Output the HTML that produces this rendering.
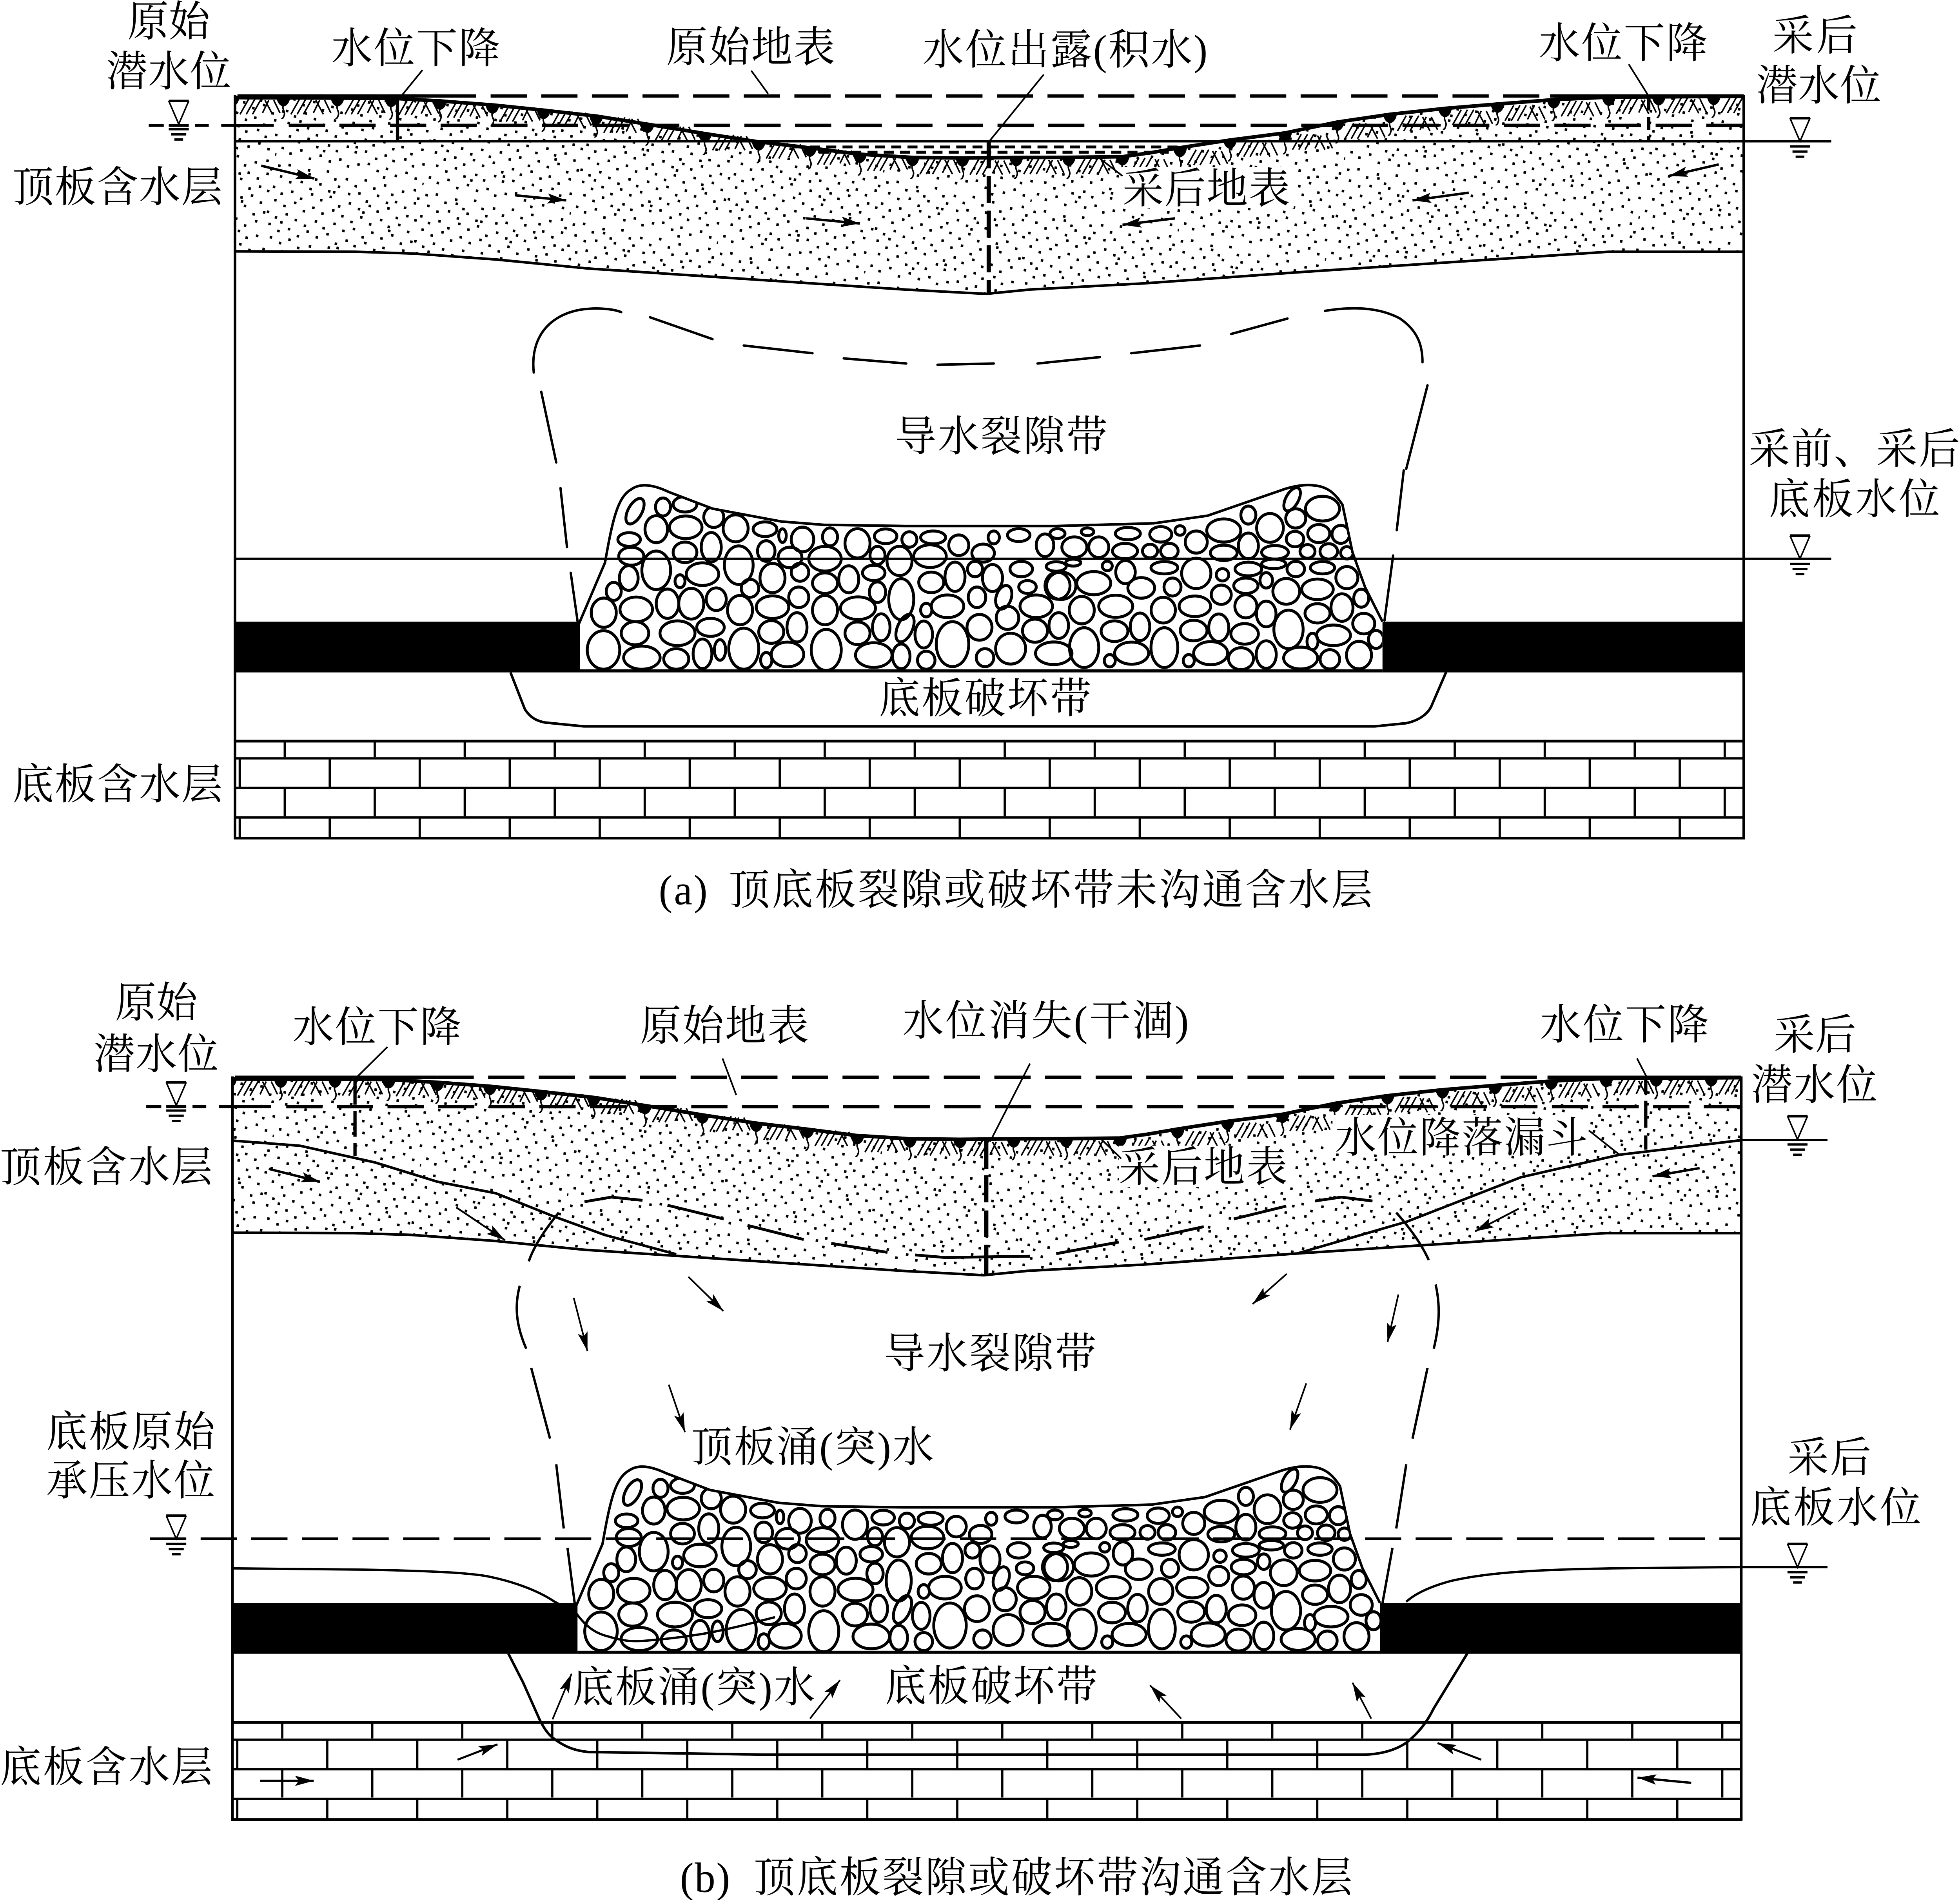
<!DOCTYPE html>
<html><head><meta charset="utf-8"><style>
html,body{margin:0;padding:0;background:#fff;width:100%;height:100%;overflow:hidden}
svg{display:block;width:100vw;height:100vh}
text{font-family:"Liberation Serif","Noto Serif CJK SC",serif;font-size:33px;fill:#000}
</style></head><body>
<svg xmlns="http://www.w3.org/2000/svg" viewBox="0 0 1568 1479.2" preserveAspectRatio="none">
<defs>
<pattern id="st" patternUnits="userSpaceOnUse" width="120" height="80" patternTransform="rotate(11)">
<path stroke="#000" stroke-width="2" fill="none" d="M3 4h2M11 2h2M19 7h2M27 3h2M34 9h2M42 1h2M49 6h2M58 4h2M66 8h2M73 2h2M81 7h2M89 3h2M96 9h2M104 5h2M113 2h2M117 8h2M6 12h2M14 15h2M23 13h2M31 17h2M38 12h2M46 16h2M53 11h2M62 15h2M70 13h2M77 18h2M85 12h2M93 16h2M100 14h2M108 17h2M115 12h2M2 21h2M9 25h2M17 22h2M25 26h2M33 21h2M41 24h2M48 20h2M56 26h2M64 22h2M72 25h2M80 21h2M87 24h2M95 20h2M103 26h2M111 23h2M118 25h2M5 31h2M13 34h2M21 30h2M29 35h2M36 31h2M44 34h2M52 30h2M60 33h2M68 36h2M75 31h2M83 35h2M91 30h2M98 34h2M106 31h2M114 35h2M1 41h2M8 44h2M16 40h2M24 43h2M32 46h2M40 41h2M47 45h2M55 40h2M63 44h2M71 41h2M79 46h2M86 41h2M94 44h2M102 40h2M110 45h2M118 42h2M4 50h2M12 54h2M20 51h2M28 55h2M35 50h2M43 53h2M51 49h2M59 55h2M67 51h2M74 54h2M82 50h2M90 54h2M97 51h2M105 55h2M113 50h2M7 60h2M15 63h2M22 59h2M30 64h2M39 61h2M46 64h2M54 59h2M61 62h2M69 60h2M78 64h2M85 60h2M92 63h2M101 60h2M108 64h2M116 61h2M3 70h2M10 73h2M18 69h2M26 74h2M34 70h2M42 73h2M50 70h2M57 74h2M65 71h2M73 69h2M81 73h2M88 70h2M96 74h2M104 70h2M112 73h2M119 76h1M28 6h2M50 16h2M76 27h2M99 37h2M13 47h2M61 58h2M36 66h2M87 77h2"/>
</pattern>
<pattern id="br" patternUnits="userSpaceOnUse" x="190.8" y="589.4" width="72" height="46">
<path stroke="#000" stroke-width="1.8" fill="none" d="M0 1H72M0 24H72M1 1V24M37 24V46"/>
</pattern>
<marker id="ar" markerUnits="userSpaceOnUse" markerWidth="16" markerHeight="10" refX="15" refY="5" orient="auto">
<path d="M0,1 L15,5 L0,9 L3,5 Z" fill="#000"/>
</marker>
<g id="sym">
<path d="M-8,0H8" stroke="#000" stroke-width="2" fill="none"/>
<path d="M-8,0L0,18L8,0" stroke="#000" stroke-width="1.2" fill="none"/>
<path d="M-8,22H8M-6,26H6M-3.5,30H3.5" stroke="#000" stroke-width="1.8" fill="none"/>
</g>
<g id="m">
<path d="M-5.5,0 Q-4.5,6 0,7 Q4.5,6 5.5,0Z" fill="#000"/>
<path d="M0,6 C-1.5,9 2,11 0.5,14 C0,16 -1,16.5 -1.5,16" stroke="#000" stroke-width="1.2" fill="none"/>
<path d="M13,1L6,13M18,1L11,13M23,1L16,13M26,2L32,13M29,2L24,12M33,2L38,12" stroke="#000" stroke-width="1.2" fill="none"/>
</g>
<clipPath id="bc"><rect x="188" y="70" width="1207" height="70"/></clipPath>
<clipPath id="cv"><path d="M463,523 L463,486 L484,438 C490,405 494,387 505,381 C512,376 522,377 535,383 L570,396 L625,406 L659,408.6 L724,409.5 L845,409.5 L923,407.4 L966,401.5 L1024,382 C1035,378 1045,377 1052,378 C1062,379 1068,384 1074,393 L1082,430 L1092,457 L1106,484 L1106,523 Z"/></clipPath>
<g id="base">
<polygon fill="url(#st)" points="188,76 313,76.5 352,78.6 394,81.7 435,85.8 478,90.5 518,96.7 564,104 606,110.3 647,115 687,120 730,122.6 770,123 814,122.6 855,122.5 898,122 920,119 944,115 984,109 1028,103.5 1070,95 1112,89 1156,84.4 1198,81 1243,77.6 1287,75.6 1395,75 1395,196 1287,196 1038,212 915.5,220.6 824,225.4 789,228.8 723.7,225.4 470,209 396.7,202 380.6,200.9 331,197.4 284.6,196 188,195.7"/>
<polyline fill="none" stroke="#000" stroke-width="2" points="188,195.7 284.6,196 331,197.4 380.6,200.9 396.7,202 470,209 723.7,225.4 789,228.8 824,225.4 915.5,220.6 1038,212 1287,196 1395,196"/>
<polyline fill="none" stroke="#000" stroke-width="2.8" stroke-linejoin="round" points="188,76 313,76.5 352,78.6 394,81.7 435,85.8 478,90.5 518,96.7 564,104 606,110.3 647,115 687,120 730,122.6 770,123 814,122.6 855,122.5 898,122 920,119 944,115 984,109 1028,103.5 1070,95 1112,89 1156,84.4 1198,81 1243,77.6 1287,75.6 1395,75"/>
<g clip-path="url(#bc)">
<use href="#m" transform="translate(186,76)"/><use href="#m" transform="translate(226.7,76)"/><use href="#m" transform="translate(270,76)"/><use href="#m" transform="translate(313,76.5)"/><use href="#m" transform="translate(352,78.6)"/><use href="#m" transform="translate(394,81.7)"/><use href="#m" transform="translate(435,85.8)"/><use href="#m" transform="translate(477,90.4)"/><use href="#m" transform="translate(518,96.7)"/><use href="#m" transform="translate(564,104)"/><use href="#m" transform="translate(607,110.4)"/><use href="#m" transform="translate(648,115.2)"/><use href="#m" transform="translate(688,120)"/><use href="#m" transform="translate(730,122.6)"/><use href="#m" transform="translate(770,123)"/><use href="#m" transform="translate(813,122.6)"/><use href="#m" transform="translate(855,122.5)"/><use href="#m" transform="translate(898,122)"/><use href="#m" transform="translate(944,115.5)"/><use href="#m" transform="translate(984,109)"/><use href="#m" transform="translate(1028,103.5)"/><use href="#m" transform="translate(1070,95)"/><use href="#m" transform="translate(1112,89)"/><use href="#m" transform="translate(1156,84.4)"/><use href="#m" transform="translate(1198,81)"/><use href="#m" transform="translate(1243,77.6)"/><use href="#m" transform="translate(1287,75.6)"/><use href="#m" transform="translate(1327,75.2)"/><use href="#m" transform="translate(1371,75)"/>
</g>
<path d="M190,74.7H1395M231,97.6H1395" stroke="#000" stroke-width="2.6" stroke-dasharray="29 11.5" fill="none"/>
<path d="M190,74.7H352M1240,74.7H1395" stroke="#000" stroke-width="2.6" fill="none"/>
<path d="M119,97.6h12M135,97.6h16M156,97.6h11M177,97.6h42" stroke="#000" stroke-width="2.4" fill="none"/>
<path d="M188,74V652.5M1395,74V652.5" stroke="#000" stroke-width="2.1" fill="none"/>
<rect x="188" y="484" width="276" height="39.5" fill="#000"/>
<rect x="1106" y="484" width="289" height="39.5" fill="#000"/>
<path d="M464,522.3H1106" stroke="#000" stroke-width="2.4"/>
<path d="M463,486 L484,438 C490,405 494,387 505,381 C512,376 522,377 535,383 L570,396 L625,406 L659,408.6 L724,409.5 L845,409.5 L923,407.4 L966,401.5 L1024,382 C1035,378 1045,377 1052,378 C1062,379 1068,384 1074,393 L1082,430 L1092,457 L1106,484" stroke="#000" stroke-width="2" fill="none"/>
<g fill="none" stroke="#000" stroke-width="2.3" clip-path="url(#cv)">
<ellipse cx="482.8" cy="506" rx="13" ry="15"/><ellipse cx="513.5" cy="512" rx="14.6" ry="9"/><ellipse cx="541" cy="513" rx="10" ry="8"/><ellipse cx="562" cy="509" rx="7.5" ry="11.5"/><ellipse cx="576" cy="506" rx="4.5" ry="8"/><ellipse cx="595" cy="505" rx="12" ry="16"/><ellipse cx="613" cy="514" rx="4.5" ry="6"/><ellipse cx="630" cy="509.5" rx="13" ry="9.6"/><ellipse cx="661" cy="506" rx="12" ry="16"/><ellipse cx="699" cy="510" rx="14.6" ry="9.6"/><ellipse cx="721" cy="511" rx="7" ry="9.6"/><ellipse cx="741" cy="514" rx="7" ry="7"/><ellipse cx="762" cy="501.5" rx="13" ry="17.5"/><ellipse cx="788" cy="512" rx="7" ry="7"/><ellipse cx="808.5" cy="505" rx="12" ry="12"/><ellipse cx="843" cy="508.6" rx="14.6" ry="8.8"/>
<ellipse cx="508" cy="493" rx="11" ry="9"/><ellipse cx="542" cy="493" rx="14" ry="9.6"/><ellipse cx="568.4" cy="488.4" rx="11" ry="7"/><ellipse cx="617" cy="492" rx="10" ry="8.8"/><ellipse cx="637.6" cy="488.4" rx="8" ry="11.4"/><ellipse cx="686" cy="493" rx="10" ry="8.8"/><ellipse cx="705" cy="488.4" rx="7" ry="10.5"/><ellipse cx="724" cy="489" rx="6" ry="11.5" transform="rotate(25 724 489)"/><ellipse cx="739" cy="494" rx="7" ry="10.5"/><ellipse cx="783.6" cy="488.4" rx="10" ry="10"/><ellipse cx="806" cy="481" rx="9" ry="9"/><ellipse cx="828" cy="491" rx="10" ry="9"/>
<ellipse cx="483" cy="477" rx="10" ry="11.4"/><ellipse cx="509" cy="474.4" rx="13" ry="9.6"/><ellipse cx="534" cy="470" rx="9" ry="11.4"/><ellipse cx="553" cy="470" rx="10" ry="12"/><ellipse cx="573" cy="466.5" rx="8" ry="8.8"/><ellipse cx="592" cy="475" rx="10" ry="11.4"/><ellipse cx="618" cy="472.7" rx="13" ry="8.8"/><ellipse cx="639" cy="465" rx="8" ry="8"/><ellipse cx="660" cy="475" rx="10" ry="11.4"/><ellipse cx="686.4" cy="473.5" rx="14" ry="8.8"/><ellipse cx="721" cy="466.5" rx="10" ry="16"/><ellipse cx="741" cy="475" rx="4.5" ry="5.3"/><ellipse cx="758" cy="472" rx="13" ry="8.8"/><ellipse cx="781.6" cy="465" rx="7" ry="8"/><ellipse cx="803" cy="465" rx="6" ry="9.5" transform="rotate(20 803 465)"/><ellipse cx="829" cy="472" rx="13" ry="8.8"/>
<ellipse cx="491" cy="460.4" rx="6" ry="7"/><ellipse cx="503" cy="450" rx="7.5" ry="9.6"/><ellipse cx="525" cy="444" rx="11.5" ry="15"/><ellipse cx="544" cy="452.5" rx="4" ry="5"/><ellipse cx="562" cy="447" rx="13" ry="8.8"/><ellipse cx="591" cy="440" rx="11.5" ry="15"/><ellipse cx="600" cy="458" rx="7" ry="7"/><ellipse cx="618" cy="450" rx="10" ry="11.4"/><ellipse cx="640" cy="445.5" rx="7" ry="7"/><ellipse cx="660" cy="454" rx="10" ry="8"/><ellipse cx="679" cy="451" rx="8" ry="10.5"/><ellipse cx="699" cy="446" rx="9" ry="6"/><ellipse cx="702" cy="461" rx="6.5" ry="8"/><ellipse cx="745" cy="453.4" rx="10" ry="8"/><ellipse cx="764" cy="449" rx="8" ry="11.4"/><ellipse cx="780" cy="443" rx="6" ry="6"/><ellipse cx="794" cy="450" rx="8" ry="10.5"/><ellipse cx="817" cy="443" rx="9" ry="6"/><ellipse cx="822" cy="457" rx="7" ry="5"/><ellipse cx="846" cy="456" rx="10" ry="10.5"/>
<ellipse cx="505" cy="433" rx="10" ry="7"/><ellipse cx="503.3" cy="420" rx="9" ry="5.3"/><ellipse cx="525" cy="412" rx="9" ry="10.5"/><ellipse cx="548" cy="430" rx="9.5" ry="8"/><ellipse cx="569" cy="426" rx="8" ry="11.4"/><ellipse cx="548.6" cy="410.5" rx="13" ry="8.8"/><ellipse cx="571" cy="402.6" rx="8" ry="8"/><ellipse cx="588.5" cy="411.3" rx="10" ry="10.5"/><ellipse cx="612" cy="412" rx="9.5" ry="5.7"/><ellipse cx="626" cy="417" rx="3" ry="5.3"/><ellipse cx="642" cy="420" rx="9" ry="9.6"/><ellipse cx="664" cy="418" rx="6" ry="7"/><ellipse cx="686" cy="423" rx="10" ry="11.4"/><ellipse cx="708.5" cy="417.5" rx="9" ry="5.7"/><ellipse cx="727.5" cy="420" rx="6" ry="6"/><ellipse cx="746.5" cy="418.4" rx="10" ry="5"/><ellipse cx="767" cy="424.5" rx="8" ry="8"/><ellipse cx="786.5" cy="430.6" rx="9" ry="7"/><ellipse cx="795" cy="418.4" rx="4.5" ry="5"/><ellipse cx="815" cy="416.6" rx="9" ry="5"/><ellipse cx="836" cy="424.5" rx="7" ry="8.8"/>
<ellipse cx="613" cy="429" rx="7" ry="8"/><ellipse cx="632" cy="434" rx="9.5" ry="8"/><ellipse cx="660" cy="435" rx="13" ry="9.6"/><ellipse cx="702" cy="432.4" rx="6" ry="7"/><ellipse cx="719.6" cy="436.7" rx="10" ry="11.4"/><ellipse cx="744" cy="433" rx="13" ry="8.8"/><ellipse cx="508" cy="398" rx="5.5" ry="11" transform="rotate(30 508 398)"/><ellipse cx="530.4" cy="394.7" rx="6" ry="7"/><ellipse cx="548" cy="392.6" rx="9.5" ry="6"/>
<ellipse cx="1058" cy="396" rx="13.6" ry="9.6"/><ellipse cx="1033.7" cy="388.7" rx="5" ry="10" transform="rotate(30 1033.7 388.7)"/><ellipse cx="1036.6" cy="403.6" rx="8" ry="7.5"/><ellipse cx="1016" cy="411" rx="10.7" ry="11.2"/><ellipse cx="998.7" cy="401" rx="6" ry="7"/><ellipse cx="979" cy="413" rx="13.6" ry="9"/><ellipse cx="998.7" cy="425" rx="8" ry="10"/><ellipse cx="957" cy="422" rx="8.8" ry="8.6"/><ellipse cx="944" cy="413" rx="4" ry="3.7"/><ellipse cx="928.6" cy="416" rx="8.8" ry="6"/><ellipse cx="902.3" cy="415.4" rx="10" ry="4.8"/><ellipse cx="870" cy="414" rx="5" ry="3"/><ellipse cx="846" cy="415.4" rx="6" ry="3.8"/><ellipse cx="859.5" cy="426" rx="10" ry="8"/><ellipse cx="879" cy="426" rx="8" ry="8"/><ellipse cx="900" cy="429" rx="10" ry="6"/><ellipse cx="920" cy="429" rx="6" ry="5.3"/><ellipse cx="935.5" cy="429" rx="7" ry="6"/><ellipse cx="979" cy="430.4" rx="10.7" ry="6"/><ellipse cx="1020" cy="430" rx="10.7" ry="5.3"/><ellipse cx="1036" cy="419.7" rx="7" ry="6"/><ellipse cx="1055" cy="415.4" rx="8.8" ry="7"/><ellipse cx="1072.6" cy="416" rx="7" ry="7"/><ellipse cx="1046" cy="429.3" rx="6" ry="5.3"/><ellipse cx="1063" cy="429.3" rx="7" ry="6"/><ellipse cx="1077.5" cy="430.4" rx="5" ry="4.8"/>
<ellipse cx="845" cy="441" rx="8" ry="3.7"/><ellipse cx="858.6" cy="438" rx="6" ry="2.7"/><ellipse cx="885.8" cy="440.6" rx="4" ry="3.7"/><ellipse cx="900.4" cy="445.4" rx="7.8" ry="9"/><ellipse cx="931.5" cy="442" rx="10.7" ry="4.8"/><ellipse cx="957" cy="446.4" rx="11.7" ry="11.8"/><ellipse cx="978" cy="447.5" rx="5" ry="4.8"/><ellipse cx="998.7" cy="443" rx="10.7" ry="5.3"/><ellipse cx="1019" cy="439" rx="9.7" ry="3.7"/><ellipse cx="1036.6" cy="443" rx="7" ry="6"/><ellipse cx="1058" cy="442" rx="9.7" ry="4.8"/><ellipse cx="1077.5" cy="449.7" rx="8.8" ry="8.6"/><ellipse cx="875" cy="454" rx="13.6" ry="9"/><ellipse cx="913" cy="457.7" rx="10.7" ry="8"/><ellipse cx="938" cy="457" rx="6.8" ry="7"/><ellipse cx="849" cy="456" rx="11.7" ry="10.7"/><ellipse cx="996.7" cy="456" rx="9.7" ry="6"/><ellipse cx="1013" cy="451.8" rx="5" ry="6"/><ellipse cx="977" cy="463" rx="8" ry="7.5"/><ellipse cx="1029" cy="460.4" rx="10.7" ry="10"/><ellipse cx="1054" cy="458.8" rx="12.6" ry="8"/><ellipse cx="1089" cy="465.7" rx="6" ry="7"/>
<ellipse cx="865.4" cy="475" rx="10" ry="10.7"/><ellipse cx="892.6" cy="472" rx="13.6" ry="8.6"/><ellipse cx="930.6" cy="475" rx="9.7" ry="10"/><ellipse cx="955.9" cy="472" rx="12.6" ry="8"/><ellipse cx="996.7" cy="472" rx="8.8" ry="9"/><ellipse cx="1013" cy="478" rx="7.8" ry="10"/><ellipse cx="1054" cy="477.5" rx="10" ry="7.5"/><ellipse cx="1073.6" cy="473" rx="8.8" ry="10.7"/><ellipse cx="847" cy="487" rx="7.8" ry="10"/><ellipse cx="891.6" cy="491.4" rx="10.7" ry="8"/><ellipse cx="912" cy="488" rx="7.8" ry="10.7"/><ellipse cx="954.9" cy="490.9" rx="10.7" ry="8"/><ellipse cx="975" cy="488.7" rx="8" ry="10.7"/><ellipse cx="995.7" cy="493.5" rx="11" ry="8"/><ellipse cx="1030.8" cy="490" rx="11.7" ry="15"/><ellipse cx="1066.8" cy="494.6" rx="13.6" ry="8"/><ellipse cx="1091" cy="485.5" rx="8.8" ry="8"/><ellipse cx="1100.8" cy="497.8" rx="6" ry="7"/>
<ellipse cx="867.3" cy="504.2" rx="11.7" ry="15.5"/><ellipse cx="905.3" cy="508.5" rx="13.6" ry="8.6"/><ellipse cx="931.5" cy="504.2" rx="10.7" ry="15.5"/><ellipse cx="968.5" cy="508.5" rx="13.6" ry="9"/><ellipse cx="992.8" cy="512.8" rx="10" ry="8.5"/><ellipse cx="1013" cy="509.6" rx="8" ry="10.7"/><ellipse cx="1040.5" cy="512.3" rx="13.6" ry="8.5"/><ellipse cx="1063.9" cy="513.3" rx="7.8" ry="7.5"/><ellipse cx="1087.2" cy="510" rx="10" ry="10.7"/><ellipse cx="887.8" cy="514.4" rx="4.4" ry="4.8"/><ellipse cx="951" cy="514.4" rx="4.4" ry="4.8"/><ellipse cx="1050" cy="499.4" rx="4.4" ry="6.4"/>
</g>
<rect x="188" y="577" width="1207" height="75.5" fill="url(#br)"/>
<path d="M188,577H1395M187,652.5H1396" stroke="#000" stroke-width="2.1" fill="none"/>
</g>
</defs>
<rect width="1568" height="1480" fill="#fff"/>

<!-- Panel A -->
<use href="#base"/>
<rect x="895" y="130" width="140" height="32" fill="#fff"/>
<path d="M188,110H1465" stroke="#000" stroke-width="1.8"/>
<path d="M635,114.4H950M655,118.5H935" stroke="#000" stroke-width="2.2" stroke-dasharray="8 5" fill="none"/>
<path d="M318,76V110" stroke="#000" stroke-width="2.6"/>
<path d="M1319,76V110" stroke="#000" stroke-width="2.6" stroke-dasharray="10 5"/>
<path d="M791,110V228" stroke="#000" stroke-width="3.4" stroke-dasharray="21 6"/>
<path d="M338,54.5L321.7,74M601,55L614.5,73M835,58L790.6,111M1303,50L1319,75M878,122L898,137" stroke="#000" stroke-width="1.3" fill="none"/>
<use href="#sym" transform="translate(143,78.6)"/>
<use href="#sym" transform="translate(1440,92)"/>
<path d="M188,435H1465" stroke="#000" stroke-width="1.8"/>
<use href="#sym" transform="translate(1440,417)"/>
<g stroke="#000" stroke-width="1.9" fill="none">
<path d="M209,129L251.5,139" marker-end="url(#ar)"/><path d="M412,152L453,156" marker-end="url(#ar)"/><path d="M645,170L688,174" marker-end="url(#ar)"/><path d="M940,170L898,175" marker-end="url(#ar)"/><path d="M1175,150L1130,156" marker-end="url(#ar)"/><path d="M1375,128L1335,137" marker-end="url(#ar)"/>
</g>
<g stroke="#000" stroke-width="1.9" fill="none" stroke-linecap="round">
<path d="M462.4,486L456.6,446M453.6,426L448.4,380M445,360L433,305M427,290C424,262 440,245 465,241C480,239 492,241 497,243M520,247L570,264M595,269L650,275M675,279L725,283M750,284L795,283M830,283L880,278M905,275L960,269M985,260L1030,248M1060,242C1085,238 1105,240 1120,248C1135,258 1138,270 1138,282M1142,300L1125,365M1117.4,412.7L1123,366.2M1114.5,432.5L1107.6,483"/>
</g>
<path d="M408.4,523.5L420,552.4C424,558 428,561 436,562.5L467,565.5H1100L1125,563C1135,561 1142,556 1145,550L1157,523" stroke="#000" stroke-width="2" fill="none"/>

<text x="102" y="28" textLength="66">原始</text>
<text x="85" y="67" textLength="100">潜水位</text>
<text x="265" y="49" textLength="135">水位下降</text>
<text x="533" y="48" textLength="135">原始地表</text>
<text x="738" y="50" textLength="228">水位出露(积水)</text>
<text x="1231" y="45" textLength="135">水位下降</text>
<text x="1418" y="39" textLength="68">采后</text>
<text x="1405" y="78" textLength="100">潜水位</text>
<text x="10" y="157" textLength="168">顶板含水层</text>
<text x="898" y="158" textLength="134">采后地表</text>
<text x="716" y="351" textLength="170">导水裂隙带</text>
<text x="1399" y="361" textLength="169">采前、采后</text>
<text x="1415" y="400" textLength="137">底板水位</text>
<text x="703" y="555" textLength="170">底板破坏带</text>
<text x="10" y="622" textLength="168">底板含水层</text>
<text x="527" y="704" textLength="39">(a)</text>
<text x="583" y="704" textLength="515">顶底板裂隙或破坏带未沟通含水层</text>

<!-- Panel B -->
<use href="#base" transform="translate(-2,764)"/>
<rect x="895" y="892" width="138" height="32" fill="#fff"/>
<rect x="1066" y="868" width="206" height="30" fill="#fff"/>
<polyline fill="none" stroke="#000" stroke-width="2" points="186,888 240,892 300,905 350,920 396.7,929 443,947 484,961.5 541,976.5"/>
<polyline fill="none" stroke="#000" stroke-width="2" points="1393.6,887.6 1295.6,899 1216.8,916.5 1125.7,951 1038,975.8"/>
<path d="M284,840V900" stroke="#000" stroke-width="2.6" stroke-dasharray="20 5"/>
<path d="M1316.6,840V852M1316.6,857V878M1316.6,884V895" stroke="#000" stroke-width="2.6"/>
<path d="M789,888V910M789,915V936M789,942.4V963M789,969V993.5" stroke="#000" stroke-width="3.4"/>
<path d="M310,815L284,840M578,824L589,852.5M824,828L793,887M1309.6,824L1317.6,839M1271,880L1295.6,899M880,886L897,902" stroke="#000" stroke-width="1.3" fill="none"/>
<use href="#sym" transform="translate(141,842.6)"/>
<use href="#sym" transform="translate(1438,869)"/>
<path d="M1393,887.6H1462" stroke="#000" stroke-width="1.8"/>
<path d="M120,1198H1393" stroke="#000" stroke-width="2.2" stroke-dasharray="29 11.5"/>
<use href="#sym" transform="translate(141,1180)"/>
<path d="M1393,1220H1462" stroke="#000" stroke-width="1.8"/>
<use href="#sym" transform="translate(1438,1202)"/>
<path d="M186,1221L292,1222C340,1223 370,1224 389,1227C410,1231 430,1238 443.7,1247L461,1256C470,1268 478,1272 486.5,1274C498,1277.5 505,1278 514,1277.5C535,1276 550,1274 564,1271.7C585,1268 600,1264 620,1259" stroke="#000" stroke-width="1.8" fill="none"/>
<path d="M1393,1220L1290,1221C1230,1222 1190,1224 1160,1231C1145,1235 1133,1240 1125,1247" stroke="#000" stroke-width="1.8" fill="none"/>
<path d="M467.6,935.6L489,932L514,934.5M534,938.3L579,949M598,954L643,965M665,968L710,975M732,977L756,979L824,978M845,976L895,967M915.5,965L963,955M987,949L1029,939M1052,935L1073,932L1098,935" stroke="#000" stroke-width="2.2" fill="none"/>
<path d="M447,944C438,955 428,968 423,982M415.8,1001C412,1015 412,1030 421,1050M425,1065L440,1120M445,1140L451,1190M454,1205L460,1250M1117,944C1127,955 1137,968 1143,981M1148.5,1000C1152,1015 1152,1030 1147,1050M1142,1065L1130,1120M1125,1140L1117,1190M1114,1205L1106,1248" stroke="#000" stroke-width="1.9" fill="none"/>
<path d="M406.7,1287.4L418.4,1309.7L432,1339.4C435,1345 438,1350 443.7,1354C452,1360 460,1363 471,1364L541,1365L610,1366H1090C1105,1366 1118,1362 1126,1356C1135,1349 1142,1340 1147,1330L1174,1287" stroke="#000" stroke-width="2" fill="none"/>
<g stroke="#000" fill="none">
<path stroke-width="1.9" d="M215,910L256,920" marker-end="url(#ar)"/>
<path stroke-width="1.4" d="M365,940L404,965.5" marker-end="url(#ar)"/>
<path stroke-width="1.4" d="M1215,941L1180,958.7" marker-end="url(#ar)"/>
<path stroke-width="1.9" d="M1359.7,909.4L1322,915.8" marker-end="url(#ar)"/>
<path stroke-width="1.3" d="M550.7,994L578.7,1020.7" marker-end="url(#ar)"/>
<path stroke-width="1.3" d="M1029.4,991.7L1002,1015.3" marker-end="url(#ar)"/>
<path stroke-width="1.3" d="M1118.7,1007.8L1110,1045" marker-end="url(#ar)"/>
<path stroke-width="1.3" d="M459,1010.5L470,1052" marker-end="url(#ar)"/>
<path stroke-width="1.3" d="M535,1078L548,1115" marker-end="url(#ar)"/>
<path stroke-width="1.3" d="M1045,1077L1032,1113" marker-end="url(#ar)"/>
<path stroke-width="1.6" d="M366,1370L398,1358" marker-end="url(#ar)"/>
<path stroke-width="1.8" d="M208,1386.4L251,1386.4" marker-end="url(#ar)"/>
<path stroke-width="1.3" d="M442,1338.6L457.3,1303" marker-end="url(#ar)"/>
<path stroke-width="1.3" d="M648,1338L672,1308" marker-end="url(#ar)"/>
<path stroke-width="1.3" d="M945,1338L920,1312" marker-end="url(#ar)"/>
<path stroke-width="1.3" d="M1097,1338L1082,1310" marker-end="url(#ar)"/>
<path stroke-width="1.6" d="M1185,1370L1150,1357" marker-end="url(#ar)"/>
<path stroke-width="1.8" d="M1353,1388L1310,1384" marker-end="url(#ar)"/>
</g>

<text x="92" y="792" textLength="66">原始</text>
<text x="75" y="832" textLength="100">潜水位</text>
<text x="234" y="811" textLength="135">水位下降</text>
<text x="512" y="810" textLength="135">原始地表</text>
<text x="722" y="806" textLength="229">水位消失(干涸)</text>
<text x="1232" y="809" textLength="135">水位下降</text>
<text x="1419" y="817" textLength="66">采后</text>
<text x="1401" y="856" textLength="101">潜水位</text>
<text x="0" y="920" textLength="170">顶板含水层</text>
<text x="895" y="920" textLength="135">采后地表</text>
<text x="1068" y="897" textLength="202">水位降落漏斗</text>
<text x="707" y="1065" textLength="170">导水裂隙带</text>
<text x="37" y="1126" textLength="135">底板原始</text>
<text x="37" y="1164" textLength="135">承压水位</text>
<text x="553" y="1138" textLength="194">顶板涌(突)水</text>
<text x="1430" y="1146" textLength="67">采后</text>
<text x="1400" y="1185" textLength="137">底板水位</text>
<text x="458" y="1325" textLength="194">底板涌(突)水</text>
<text x="708" y="1324" textLength="170">底板破坏带</text>
<text x="0" y="1387" textLength="170">底板含水层</text>
<text x="544" y="1473" textLength="40">(b)</text>
<text x="603" y="1473" textLength="479">顶底板裂隙或破坏带沟通含水层</text>
</svg>
</body></html>
